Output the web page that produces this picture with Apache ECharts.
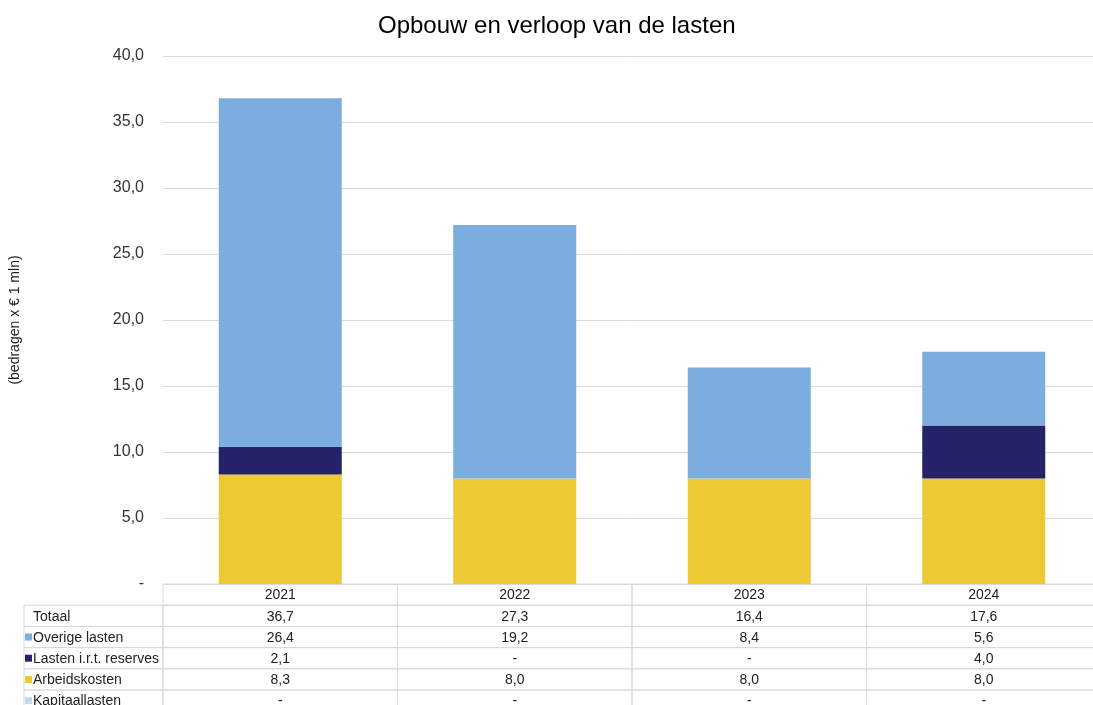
<!DOCTYPE html>
<html>
<head>
<meta charset="utf-8">
<script src="https://cdn.jsdelivr.net/npm/echarts@6/dist/echarts.min.js"></script>
<style>
  html, body { margin: 0; background: #fff; }
  #chart { width: 1093px; height: 705px; }
</style>
</head>
<body>
<div id="chart"></div>
<script>
const years = ["2021", "2022", "2023", "2024"];
const overigeLasten = [26.4, 19.2, 8.4, 5.6];
const lastenReserves = [2.1, 0, 0, 4.0];
const arbeidskosten = [8.3, 8.0, 8.0, 8.0];
const kapitaallasten = [0, 0, 0, 0];
const totaal = [36.7, 27.3, 16.4, 17.6];
const rowNames = ["", "Totaal", "Overige lasten", "Lasten i.r.t. reserves", "Arbeidskosten", "Kapitaallasten"];

const colors = {
  overige: "#7BADDE",
  reserves: "#262268",
  arbeid: "#EDCA33",
  kapitaal: "#C6DAEF",
};
const rowColors = [null, null, colors.overige, colors.reserves, colors.arbeid, colors.kapitaal];
const font = "Liberation Sans, Arial, sans-serif";
const lineColor = "#d9d9d9";

// the table runs past the right edge of the picture
const plotLeft = 163;
const colWidth = 234.5;
const rowHeight = 21.2;
const tableTop = 584;
const labelWidth = 139;
const yMax = (705 - tableTop) / rowHeight;

function fmt(v) {
  return v === 0 ? "-" : v.toFixed(1).replace(".", ",");
}

// cells of the table under the chart
const rowValues = [years, totaal.map(fmt), overigeLasten.map(fmt), lastenReserves.map(fmt), arbeidskosten.map(fmt), kapitaallasten.map(fmt)];
const cellData = [];
rowValues.forEach((row, r) => row.forEach((text, c) => cellData.push([c + 0.5, r + 0.5, text])));
const labelData = rowNames.map((name, r) => [0, r + 0.5, name]).slice(1);

function renderCell(params, api) {
  const pt = api.coord([api.value(0), api.value(1)]);
  const [w, h] = api.size([1, 1]);
  return {
    type: "group",
    children: [
      { type: "rect", shape: { x: pt[0] - w / 2, y: pt[1] - h / 2, width: w, height: h },
        style: { fill: "none", stroke: lineColor, lineWidth: 1 } },
      { type: "text", x: pt[0], y: pt[1] + 1,
        style: { text: cellData[params.dataIndex][2], align: "center", verticalAlign: "middle",
                 font: "14px " + font, fill: "#222" } },
    ],
  };
}

function renderLabel(params, api) {
  const pt = api.coord([0, api.value(1)]);
  const h = api.size([1, 1])[1];
  const r = params.dataIndex + 1;
  const x0 = pt[0] - labelWidth;
  const color = rowColors[r];
  const children = [
    { type: "rect", shape: { x: x0, y: pt[1] - h / 2, width: labelWidth, height: h },
      style: { fill: "none", stroke: lineColor, lineWidth: 1 } },
    { type: "text", x: x0 + 9, y: pt[1] + 1,
      style: { text: labelData[params.dataIndex][2], align: "left", verticalAlign: "middle",
               font: "14px " + font, fill: "#222" } },
  ];
  if (color) {
    children.push({ type: "rect", shape: { x: x0 + 1, y: pt[1] - 3.5, width: 7, height: 7 }, style: { fill: color } });
  }
  return { type: "group", children };
}

const chart = echarts.init(document.getElementById("chart"));
chart.setOption({
  animation: false,
  backgroundColor: "#fff",
  title: {
    text: "Opbouw en verloop van de lasten",
    left: 373,
    top: 9,
    textStyle: { fontFamily: font, fontSize: 24, fontWeight: "normal", color: "#000" },
  },
  grid: [
    { left: plotLeft, width: 4 * colWidth, top: 56, height: tableTop - 56, outerBoundsMode: "none" },
    { left: plotLeft, width: 4 * colWidth, top: tableTop, height: 705 - tableTop, outerBoundsMode: "none" },
  ],
  xAxis: [
    {
      type: "category", data: years, gridIndex: 0,
      axisLine: { show: false }, axisTick: { show: false }, axisLabel: { show: false }, splitLine: { show: false },
    },
    {
      type: "value", gridIndex: 1, min: 0, max: 4, show: false,
    },
  ],
  yAxis: [
    {
      type: "value", gridIndex: 0, min: 0, max: 40, interval: 5,
      name: "(bedragen x € 1 mln)",
      nameLocation: "middle",
      nameRotate: 90,
      nameGap: 141,
      nameTextStyle: { fontFamily: font, fontSize: 14, color: "#222" },
      axisLine: { show: false }, axisTick: { show: false },
      axisLabel: { formatter: fmt, fontFamily: font, fontSize: 16, color: "#333", margin: 19 },
      splitLine: { lineStyle: { color: lineColor, width: 1 } },
    },
    {
      type: "value", gridIndex: 1, min: 0, max: yMax, inverse: true, show: false,
    },
  ],
  series: [
    { name: "Arbeidskosten", type: "bar", stack: "lasten", data: arbeidskosten, barWidth: 123, itemStyle: { color: colors.arbeid } },
    { name: "Lasten i.r.t. reserves", type: "bar", stack: "lasten", data: lastenReserves, barWidth: 123, itemStyle: { color: colors.reserves } },
    { name: "Overige lasten", type: "bar", stack: "lasten", data: overigeLasten, barWidth: 123, itemStyle: { color: colors.overige } },
    { name: "Kapitaallasten", type: "bar", stack: "lasten", data: kapitaallasten, barWidth: 123, itemStyle: { color: colors.kapitaal } },
    { type: "custom", xAxisIndex: 1, yAxisIndex: 1, data: cellData, renderItem: renderCell, clip: false, silent: true },
    { type: "custom", xAxisIndex: 1, yAxisIndex: 1, data: labelData, renderItem: renderLabel, clip: false, silent: true },
  ],
});
</script>
</body>
</html>
